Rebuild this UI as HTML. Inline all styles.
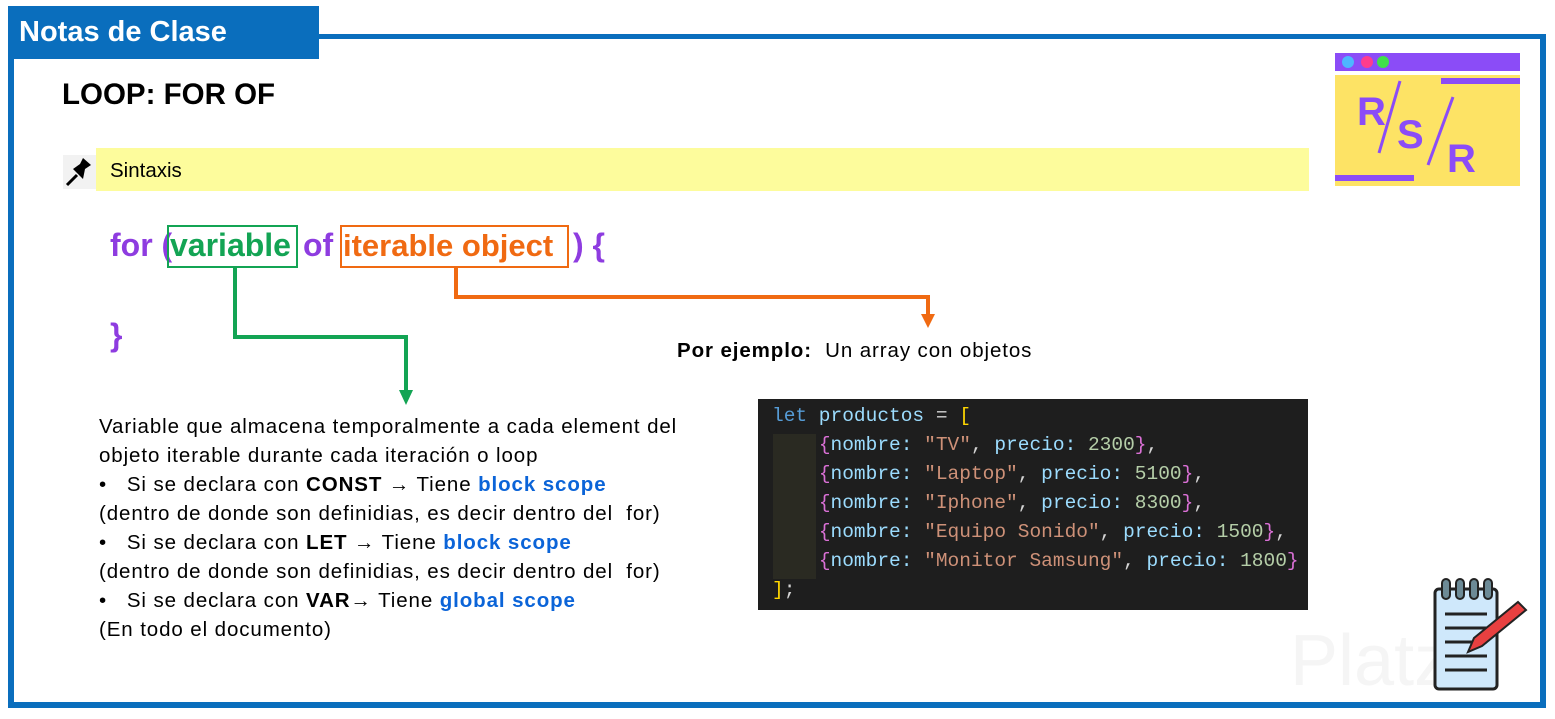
<!DOCTYPE html>
<html><head><meta charset="utf-8"><style>
body{margin:0;width:1555px;height:719px;background:#fff;position:relative;overflow:hidden;font-family:"Liberation Sans",sans-serif}
.a{position:absolute;white-space:nowrap}
.code{position:absolute;left:758px;top:399px;width:550px;height:211px;background:#1e1e1e;font-family:"Liberation Mono",monospace;font-size:19.5px}
.code div{position:absolute;left:14px;white-space:pre;color:#9cdcfe}
.k{color:#569cd6}.s{color:#ce9178}.n{color:#b5cea8}.b{color:#da70d6}.y{color:#ffd700}.w{color:#d4d4d4}
.t{font-size:20.5px;letter-spacing:0.9px;color:#000}
.bl{color:#0b64d8;font-weight:bold}
.f{position:absolute;top:227px;font-size:32px;font-weight:bold;white-space:nowrap}
</style></head><body>
<div class="a" style="left:8px;top:34px;width:1526px;height:663px;border:6px solid #0a6ebd;border-top-width:5px"></div>
<div class="a" style="left:8px;top:6px;width:311px;height:53px;background:#0a6ebd"></div>
<div class="a" style="left:19px;top:16px;color:#fff;font-weight:bold;font-size:29px">Notas de Clase</div>
<div class="a" style="left:62px;top:78px;font-weight:bold;font-size:29.5px">LOOP: FOR OF</div>
<div class="a" style="left:96px;top:148px;width:1213px;height:43px;background:#fdfc9c"></div>
<div class="a" style="left:63px;top:155px;width:33px;height:34px;background:#f2f2f2"></div>
<svg class="a" style="left:63px;top:155px" width="33" height="34"><path d="M4 30 L14 20" stroke="#000" stroke-width="3"/><path d="M10 14 L20 24 L22 14 L28 10 L20 3 L17 9 Z" fill="#000"/></svg>
<div class="a" style="left:110px;top:159px;font-size:20.5px">Sintaxis</div>
<!-- logo -->
<div class="a" style="left:1335px;top:53px;width:185px;height:18px;background:#8b4cf7"></div>
<div class="a" style="left:1342px;top:56px;width:12px;height:12px;border-radius:50%;background:#4db6ff"></div>
<div class="a" style="left:1361px;top:56px;width:12px;height:12px;border-radius:50%;background:#ff3c8e"></div>
<div class="a" style="left:1377px;top:56px;width:12px;height:12px;border-radius:50%;background:#3fe04a"></div>
<div class="a" style="left:1335px;top:75px;width:185px;height:111px;background:#fde365"></div>
<div class="a" style="left:1441px;top:78px;width:79px;height:6px;background:#8b4cf7"></div>
<div class="a" style="left:1335px;top:175px;width:79px;height:6px;background:#8b4cf7"></div>
<svg class="a" style="left:1335px;top:75px" width="185" height="111"><line x1="65" y1="6" x2="44" y2="78" stroke="#8b4cf7" stroke-width="3"/><line x1="118" y1="22" x2="93" y2="90" stroke="#8b4cf7" stroke-width="3"/>
<text x="22" y="50" font-size="40" font-weight="bold" fill="#8b4cf7" font-family="Liberation Sans">R</text><text x="62" y="73" font-size="40" font-weight="bold" fill="#8b4cf7" font-family="Liberation Sans">S</text><text x="112" y="97" font-size="40" font-weight="bold" fill="#8b4cf7" font-family="Liberation Sans">R</text></svg>
<!-- for line -->
<div class="f" style="left:110px;color:#8e3ce0">for (</div>
<div class="f" style="left:170px;color:#13a454">variable</div>
<div class="f" style="left:303px;color:#8e3ce0">of</div>
<div class="f" style="left:343px;color:#f06a12;font-size:31px;top:228px">iterable object</div>
<div class="f" style="left:573px;color:#8e3ce0">) {</div>
<div class="a" style="left:167px;top:225px;width:131px;height:43px;border:2px solid #13a454;box-sizing:border-box"></div>
<div class="a" style="left:340px;top:225px;width:229px;height:43px;border:2px solid #f06a12;box-sizing:border-box"></div>
<div class="a" style="left:110px;top:317px;font-size:32px;font-weight:bold;color:#8e3ce0">}</div>
<svg class="a" style="left:0;top:0" width="1555" height="719">
<polyline points="235,268 235,337 406,337 406,392" fill="none" stroke="#13a454" stroke-width="4"/>
<polygon points="399,390 413,390 406,405" fill="#13a454"/>
<polyline points="456,268 456,297 928,297 928,316" fill="none" stroke="#f06a12" stroke-width="4"/>
<polygon points="921,314 935,314 928,328" fill="#f06a12"/>
</svg>
<div class="a" style="left:677px;top:339px;font-size:20.5px;letter-spacing:0.9px"><b>Por ejemplo:</b>&nbsp; Un array con objetos</div>
<div class="a t" style="left:99px;top:415px">Variable que almacena temporalmente a cada element del</div>
<div class="a t" style="left:99px;top:444px">objeto iterable durante cada iteración o loop</div>
<div class="a t" style="left:99px;top:473px">•&nbsp;&nbsp; Si se declara con <b>CONST</b> → Tiene <span class="bl">block scope</span></div>
<div class="a t" style="left:99px;top:502px">(dentro de donde son definidias, es decir dentro del&nbsp; for)</div>
<div class="a t" style="left:99px;top:531px">•&nbsp;&nbsp; Si se declara con <b>LET</b> → Tiene <span class="bl">block scope</span></div>
<div class="a t" style="left:99px;top:560px">(dentro de donde son definidias, es decir dentro del&nbsp; for)</div>
<div class="a t" style="left:99px;top:589px">•&nbsp;&nbsp; Si se declara con <b>VAR</b>→ Tiene <span class="bl">global scope</span></div>
<div class="a t" style="left:99px;top:618px">(En todo el documento)</div>
<div class="code">
<div style="left:15px;top:35px;width:43px;height:145px;background:#2a2a22"></div>
<div style="top:6px"><span class="k">let</span> productos <span class="w">=</span> <span class="y">[</span></div>
<div style="top:35px">    <span class="b">{</span>nombre: <span class="s">"TV"</span><span class="w">,</span> precio: <span class="n">2300</span><span class="b">}</span><span class="w">,</span></div>
<div style="top:64px">    <span class="b">{</span>nombre: <span class="s">"Laptop"</span><span class="w">,</span> precio: <span class="n">5100</span><span class="b">}</span><span class="w">,</span></div>
<div style="top:93px">    <span class="b">{</span>nombre: <span class="s">"Iphone"</span><span class="w">,</span> precio: <span class="n">8300</span><span class="b">}</span><span class="w">,</span></div>
<div style="top:122px">    <span class="b">{</span>nombre: <span class="s">"Equipo Sonido"</span><span class="w">,</span> precio: <span class="n">1500</span><span class="b">}</span><span class="w">,</span></div>
<div style="top:151px">    <span class="b">{</span>nombre: <span class="s">"Monitor Samsung"</span><span class="w">,</span> precio: <span class="n">1800</span><span class="b">}</span></div>
<div style="top:180px"><span class="y">]</span><span class="w">;</span></div>
</div>
<!-- platzi watermark + notepad -->
<div class="a" style="left:1290px;top:620px;font-size:72px;color:#f5f5f5">Platzi</div>
<svg class="a" style="left:1430px;top:574px" width="108" height="118">
<rect x="5" y="15" width="62" height="100" rx="4" fill="#cfe8fb" stroke="#222" stroke-width="3"/>
<g fill="#6c8a96" stroke="#222" stroke-width="2"><rect x="12" y="5" width="8" height="20" rx="4"/><rect x="26" y="5" width="8" height="20" rx="4"/><rect x="40" y="5" width="8" height="20" rx="4"/><rect x="54" y="5" width="8" height="20" rx="4"/></g>
<g stroke="#222" stroke-width="3"><line x1="15" y1="40" x2="57" y2="40"/><line x1="15" y1="54" x2="57" y2="54"/><line x1="15" y1="68" x2="57" y2="68"/><line x1="15" y1="82" x2="57" y2="82"/><line x1="15" y1="96" x2="57" y2="96"/></g>
<polygon points="38,78 44,64 88,28 96,36 52,72" fill="#e84040" stroke="#222" stroke-width="2"/>
</svg>
</body></html>
